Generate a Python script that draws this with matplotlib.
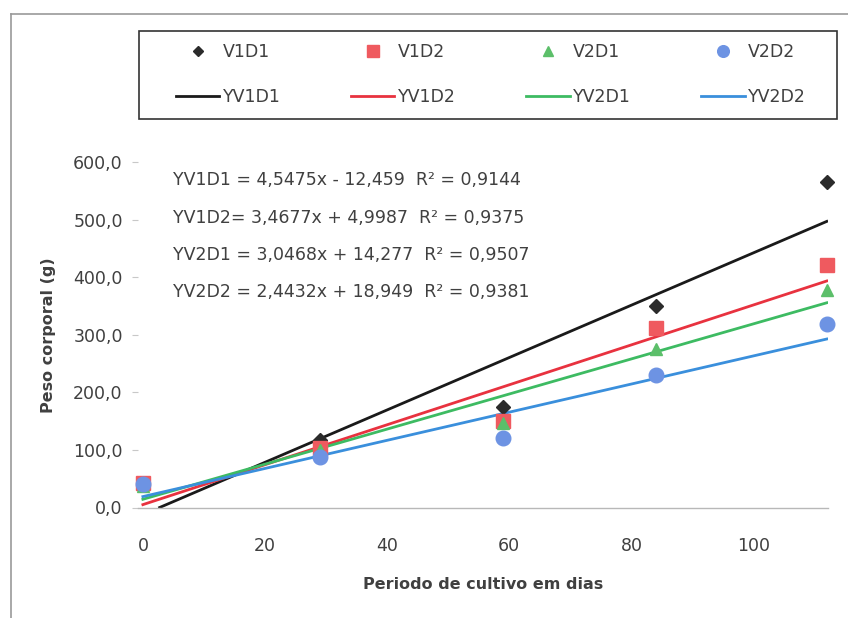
import numpy as np
import matplotlib
matplotlib.use('Agg')
import matplotlib.pyplot as plt
from matplotlib.lines import Line2D
from matplotlib.patches import Rectangle

# dados
dias = [0, 29, 59, 84, 112]
v1d1 = [40, 117, 175, 350, 565]
v1d2 = [42, 103, 151, 312, 421]
v2d1 = [38, 100, 147, 275, 378]
v2d2 = [40, 88, 121, 230, 318]

# coeficientes das retas
inclinacao = [4.5475, 3.4677, 3.0468, 2.4432]
intercepto = [-12.459, 4.9987, 14.277, 18.949]
equacoes = ['YV1D1 = 4,5475x - 12,459  R² = 0,9144',
            'YV1D2= 3,4677x + 4,9987  R² = 0,9375',
            'YV2D1 = 3,0468x + 14,277  R² = 0,9507',
            'YV2D2 = 2,4432x + 18,949  R² = 0,9381']

nomes = ['V1D1', 'V1D2', 'V2D1', 'V2D2']
marcadores = ['D', 's', '^', 'o']
tamanhos = [7, 10, 9, 10.5]
cor_pontos = ['#2b2b2b', '#ef5a5f', '#5cbf6a', '#6d93e3']
cor_linhas = ['#1a1a1a', '#e8323f', '#3dbb62', '#3a8fdc']

plt.rcParams['font.family'] = ['DejaVu Sans']
cinza = '#404040'

fig = plt.figure(figsize=(8.48, 6.18), dpi=100)
W, H = 848, 618
ax = fig.add_axes([138/W, 1-507.5/H, (828-138)/W, (507.5-162)/H])

series = [v1d1, v1d2, v2d1, v2d2]
handles = []
for i in range(4):
    p, = ax.plot(dias, series[i], linestyle='none', marker=marcadores[i],
                 markersize=tamanhos[i], color=cor_pontos[i], clip_on=False,
                 zorder=3, label=nomes[i])
    # reta de tendencia, comeca em y=0 se a reta for negativa
    x0 = max(0, -intercepto[i]/inclinacao[i])
    xs = np.array([x0, 112])
    l, = ax.plot(xs, inclinacao[i]*xs + intercepto[i], color=cor_linhas[i],
                 lw=2.0, zorder=2, label='Y' + nomes[i])
    handles += [p, l]

ax.set_xlim(-0.8, 112.2)
ax.set_ylim(0, 600)
ax.set_xticks([0, 20, 40, 60, 80, 100])
ax.set_yticks(range(0, 601, 100))
ax.set_yticklabels(['%d,0' % v for v in range(0, 601, 100)])
for s in ['top', 'right', 'left']:
    ax.spines[s].set_visible(False)
ax.spines['bottom'].set_color('#b8b8b8')
ax.spines['bottom'].set_linewidth(1.0)
ax.tick_params(axis='y', length=4, color='#c8c8c8', pad=7, labelsize=12.5, labelcolor=cinza)
ax.tick_params(axis='x', length=0, pad=21, labelsize=12.5, labelcolor=cinza)

ax.set_ylabel('Peso corporal (g)', fontsize=11.5, fontweight='bold', color=cinza, labelpad=12)
ax.set_xlabel('Periodo de cultivo em dias', fontsize=11.5, fontweight='bold', color=cinza, labelpad=16)

for i in range(4):
    fig.text(173/W, 1-[180, 218, 255, 292][i]/H, equacoes[i], fontsize=12.5,
             color=cinza, ha='left', va='center')

# legenda sem moldura, moldura desenhada a parte
leg = fig.legend(handles=handles, loc='upper left', ncol=4, mode='expand',
                 bbox_to_anchor=(176/W, 1-110/H, (806-176)/W, (110-43)/H),
                 fontsize=12.5, frameon=False, markerscale=0.8,
                 handlelength=2.5, handletextpad=0.2, labelspacing=1.55,
                 borderpad=0, borderaxespad=0)
for t in leg.get_texts():
    t.set_color(cinza)
fig.add_artist(Rectangle((139/W, 1-119/H), (837-139)/W, (119-31)/H,
                         transform=fig.transFigure, fill=False,
                         edgecolor='#333333', lw=1.2))

# moldura do grafico
fig.add_artist(Line2D([11/W, 1], [1-14/H, 1-14/H], color='#999999', lw=1.2))
fig.add_artist(Line2D([11/W, 11/W], [0, 1-14/H], color='#999999', lw=1.2))

plt.savefig('out.png', dpi=100)
